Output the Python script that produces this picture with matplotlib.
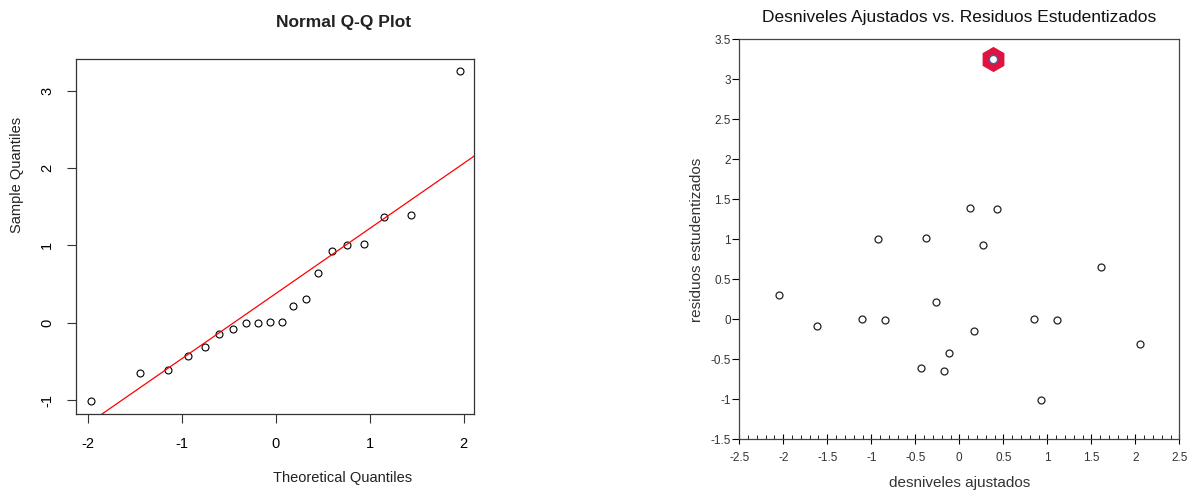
import numpy as np
import matplotlib
matplotlib.use('Agg')
import matplotlib.pyplot as plt
from matplotlib.ticker import MultipleLocator

plt.rcParams['font.family'] = ['Liberation Sans', 'DejaVu Sans']
plt.rcParams['axes.unicode_minus'] = False

# datos
desniveles_ajustados = [-2.049, -1.614, -1.109, -0.920, -0.844, -0.432, -0.378, -0.269, -0.170, -0.113,
                        0.118, 0.170, 0.269, 0.379, 0.432, 0.849, 0.925, 1.110, 1.614, 2.050]
residuos_est = [0.306, -0.081, 0.006, 1.005, -0.006, -0.606, 1.020, 0.210, -0.647, -0.427,
                1.389, -0.152, 0.922, 3.253, 1.371, 0.006, -1.009, -0.006, 0.647, -0.310]
cuantiles_teoricos = [-1.960, -1.440, -1.150, -0.935, -0.755, -0.598, -0.454, -0.319, -0.189, -0.063,
                      0.063, 0.189, 0.319, 0.454, 0.598, 0.755, 0.935, 1.150, 1.440, 1.960]
cuartiles_normal = [-0.674, 0.674]
punto_atipico = 13  # indice del residuo marcado en rojo

fig = plt.figure(figsize=(11.88, 4.9), dpi=100)

# ---- Normal Q-Q Plot ----
ax1 = fig.add_axes([0.0637, 0.1545, 0.3355, 0.7251])
muestra = np.sort(residuos_est)
ax1.plot(cuantiles_teoricos, muestra, 'o', mfc='none', mec='black', ms=5, mew=0.8)
q1, q3 = np.percentile(residuos_est, [25, 75])
pendiente = (q3 - q1) / (cuartiles_normal[1] - cuartiles_normal[0])
intercepto = q1 - pendiente * cuartiles_normal[0]
ax1.axline((0, intercepto), slope=pendiente, color='red', lw=0.9)
ax1.set_xlim(-2.128, 2.113)
ax1.set_ylim(-1.183, 3.407)
ax1.set_xticks([-2, -1, 0, 1, 2])
ax1.set_yticks([-1, 0, 1, 2, 3])
ax1.tick_params(axis='both', length=6.5, width=0.8, labelsize=10.5, color='#333333')
ax1.tick_params(axis='x', pad=10)
ax1.tick_params(axis='y', pad=9)
for lab in ax1.get_yticklabels():
    lab.set_rotation(90)
    lab.set_va('center')
for s in ax1.spines.values():
    s.set_linewidth(0.9)
    s.set_color('#333333')
fig.text(344 / 1188, 1 - 23 / 490, 'Normal Q-Q Plot', ha='center', va='center',
         fontsize=12.5, fontweight='bold', color='#222222')
fig.text(343 / 1188, 1 - 478 / 490, 'Theoretical Quantiles', ha='center', va='center',
         fontsize=10.5, color='#222222')
fig.text(17.5 / 1188, 1 - 175 / 490, 'Sample Quantiles', ha='center', va='center',
         fontsize=10.5, rotation=90, color='#222222')

# ---- Desniveles vs Residuos ----
ax2 = fig.add_axes([0.6223, 0.1035, 0.3704, 0.8169])
ax2.plot(desniveles_ajustados, residuos_est, 'o', mfc='none', mec='#222222', ms=5, mew=0.9)
ax2.plot(desniveles_ajustados[punto_atipico], residuos_est[punto_atipico], 'h',
         color='#e0123f', ms=17, zorder=3)
ax2.plot(desniveles_ajustados[punto_atipico], residuos_est[punto_atipico], 'o',
         mfc='white', mec='#4a5f9a', ms=6, mew=1.1, zorder=4)
ax2.set_xlim(-2.5, 2.5)
ax2.set_ylim(-1.5, 3.5)
ax2.xaxis.set_major_locator(MultipleLocator(0.5))
ax2.xaxis.set_minor_locator(MultipleLocator(0.1))
ax2.yaxis.set_major_locator(MultipleLocator(0.5))
ax2.xaxis.set_major_formatter(lambda v, p: ('%g' % v))
ax2.yaxis.set_major_formatter(lambda v, p: ('%g' % v))
ax2.tick_params(axis='x', which='major', direction='inout', length=7, width=0.8,
                labelsize=8.5, labelcolor='#333333', pad=6)
ax2.tick_params(axis='x', which='minor', direction='in', length=3, width=0.6)
ax2.tick_params(axis='y', which='major', direction='out', length=5, width=0.8,
                labelsize=8.5, labelcolor='#333333', pad=1)
for s in ax2.spines.values():
    s.set_linewidth(0.9)
    s.set_color('#444444')
ax2.set_title('Desniveles Ajustados vs. Residuos Estudentizados', fontsize=12.5,
              color='#111111', pad=12)
fig.text(960 / 1188, 1 - 483 / 490, 'desniveles ajustados', ha='center', va='center',
         fontsize=11, color='#333333')
fig.text(697 / 1188, 1 - 240 / 490, 'residuos estudentizados', ha='center', va='center',
         fontsize=11, rotation=90, color='#333333')

fig.savefig('out.png', dpi=100)
